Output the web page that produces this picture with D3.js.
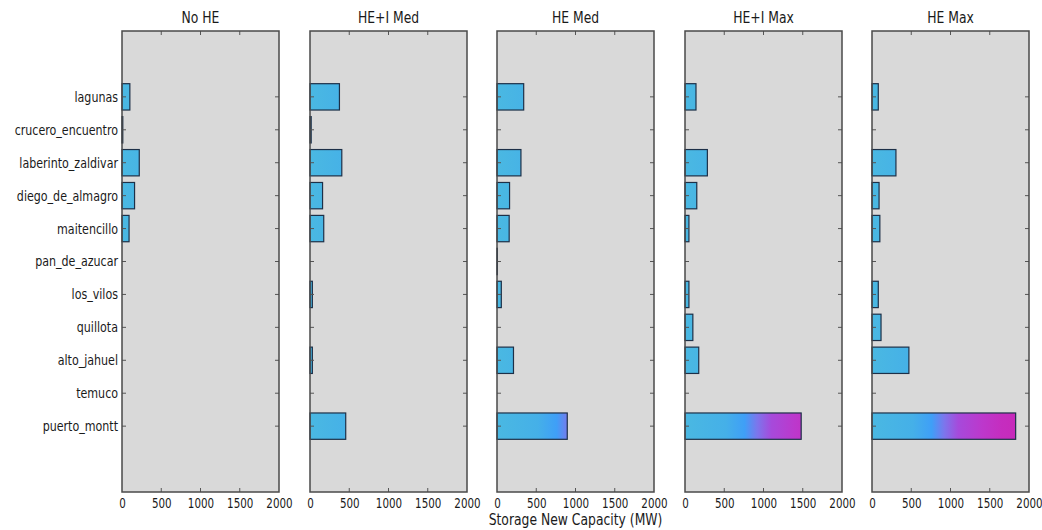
<!DOCTYPE html>
<html>
<head>
<meta charset="utf-8">
<script src="https://cdn.jsdelivr.net/npm/d3@7"></script>
<style>
  html, body { margin: 0; padding: 0; background: #ffffff; }
  svg { display: block; }
  text { font-family: "Liberation Sans Narrow", "DejaVu Sans Condensed", "Liberation Sans", sans-serif; fill: #1a1a1a; }
</style>
</head>
<body>
<svg id="chart" width="1042" height="530"></svg>
<script>
// Substations, listed top to bottom
const categories = [
  "lagunas", "crucero_encuentro", "laberinto_zaldivar", "diego_de_almagro",
  "maitencillo", "pan_de_azucar", "los_vilos", "quillota", "alto_jahuel",
  "temuco", "puerto_montt"
];

// Scenario names (one panel each)
const scenarios = ["No HE", "HE+I Med", "HE Med", "HE+I Max", "HE Max"];

// New storage capacity per substation (MW), one array per scenario
const noHE   = [100, 10, 220, 160,  90, 0,  0,   0,   0, 0,    0];
const heIMed = [375, 15, 405, 160, 175, 0, 30,   0,  30, 0,  455];
const heMed  = [340,  0, 305, 160, 155, 5, 55,   0, 210, 0,  895];
const heIMax = [140,  0, 285, 150,  50, 0, 50, 100, 175, 0, 1480];
const heMax  = [ 80,  0, 305,  90, 100, 0, 80, 115, 470, 0, 1830];
const seriesValues = [noHE, heIMed, heMed, heIMax, heMax];

// Shared x-axis ticks
const xTicks = [0, 500, 1000, 1500, 2000];
const xLabel = "Storage New Capacity (MW)";

// Colour ramp along the value axis (MW -> colour)
const rampStops = [
  [0, "#4ab8e2"], [520, "#45b0e8"], [760, "#3f9ff7"], [920, "#7c76ec"],
  [1100, "#a64adb"], [1400, "#bc38cc"], [1650, "#c52dbf"], [2000, "#c828b6"]
];

const svg = d3.select("#chart");
const defs = svg.append("defs");

const panelLeft = 122, panelStep = 187.5, panelW = 157;
const plotTop = 31, plotBottom = 492;
const squeeze = 0.82; // horizontal condensing of the tick glyphs

// Category positions: index 0..10 with two empty slots above and below
const y = d3.scaleLinear().domain([-2, categories.length + 1]).range([plotTop, plotBottom]);
const barH = (y(1) - y(0)) * 0.8;
const tickLen = 4;

scenarios.forEach((name, p) => {
  const x0 = Math.round(panelLeft + p * panelStep);
  const x = d3.scaleLinear().domain([0, 2000]).range([x0, x0 + panelW]);
  const g = svg.append("g");

  // Panel background
  g.append("rect")
    .attr("x", x(0)).attr("y", plotTop)
    .attr("width", x(2000) - x(0)).attr("height", plotBottom - plotTop)
    .attr("fill", "#d9d9d9");

  // Value gradient in this panel's coordinates
  const gradId = "ramp" + p;
  const grad = defs.append("linearGradient")
    .attr("id", gradId)
    .attr("gradientUnits", "userSpaceOnUse")
    .attr("x1", x(0)).attr("x2", x(2000)).attr("y1", 0).attr("y2", 0);
  rampStops.forEach(([v, c]) => {
    grad.append("stop").attr("offset", v / 2000).attr("stop-color", c);
  });

  // Bars
  g.selectAll("rect.bar")
    .data(seriesValues[p])
    .join("rect")
    .attr("class", "bar")
    .attr("x", x(0))
    .attr("y", (d, i) => y(i) - barH / 2)
    .attr("width", d => x(d) - x(0))
    .attr("height", barH)
    .attr("fill", `url(#${gradId})`)
    .attr("stroke", "#1d3048")
    .attr("stroke-width", 1.2)
    .attr("opacity", d => d > 0 ? 1 : 0);

  // Bottom axis with labels
  const xAxis = d3.axisBottom(x).tickValues(xTicks).tickFormat(d3.format("d")).tickSize(0).tickPadding(6);
  const ax = g.append("g").attr("transform", `translate(0,${plotBottom})`).call(xAxis);
  ax.select(".domain").remove();
  ax.attr("font-family", null);
  ax.selectAll("text").attr("font-size", 14).attr("transform", `scale(${squeeze},1)`);

  // Inward tick marks on all four sides
  const tickColor = "#555";
  xTicks.slice(1, -1).forEach(t => {
    g.append("line").attr("x1", x(t)).attr("x2", x(t)).attr("y1", plotTop).attr("y2", plotTop + tickLen).attr("stroke", tickColor);
    g.append("line").attr("x1", x(t)).attr("x2", x(t)).attr("y1", plotBottom).attr("y2", plotBottom - tickLen).attr("stroke", tickColor);
  });
  categories.forEach((c, i) => {
    g.append("line").attr("x1", x(0)).attr("x2", x(0) + tickLen).attr("y1", y(i)).attr("y2", y(i)).attr("stroke", tickColor);
    g.append("line").attr("x1", x(2000)).attr("x2", x(2000) - tickLen).attr("y1", y(i)).attr("y2", y(i)).attr("stroke", tickColor);
  });

  // Panel frame
  g.append("rect")
    .attr("x", x(0)).attr("y", plotTop)
    .attr("width", x(2000) - x(0)).attr("height", plotBottom - plotTop)
    .attr("fill", "none").attr("stroke", "#4a4a4a").attr("stroke-width", 1.5);

  // Panel title
  g.append("text")
    .attr("transform", `translate(${(x(0) + x(2000)) / 2},23) scale(0.86,1)`)
    .attr("text-anchor", "middle").attr("font-size", 16)
    .text(name);

  // Category labels on the first panel
  if (p === 0) {
    const yAxis = d3.axisLeft(y)
      .tickValues(d3.range(categories.length))
      .tickFormat(i => categories[i])
      .tickSize(0).tickPadding(0);
    const ay = g.append("g").attr("transform", `translate(${x(0) - 4},0)`).call(yAxis);
    ay.select(".domain").remove();
    ay.attr("font-family", null);
    ay.selectAll("text").attr("font-size", 14).attr("transform", "scale(0.88,1)");
  }

  // Shared axis title under the middle panel
  if (p === 2) {
    g.append("text")
      .attr("transform", `translate(${(x(0) + x(2000)) / 2},525) scale(0.86,1)`)
      .attr("text-anchor", "middle").attr("font-size", 16)
      .text(xLabel);
  }
});
</script>
</body>
</html>
